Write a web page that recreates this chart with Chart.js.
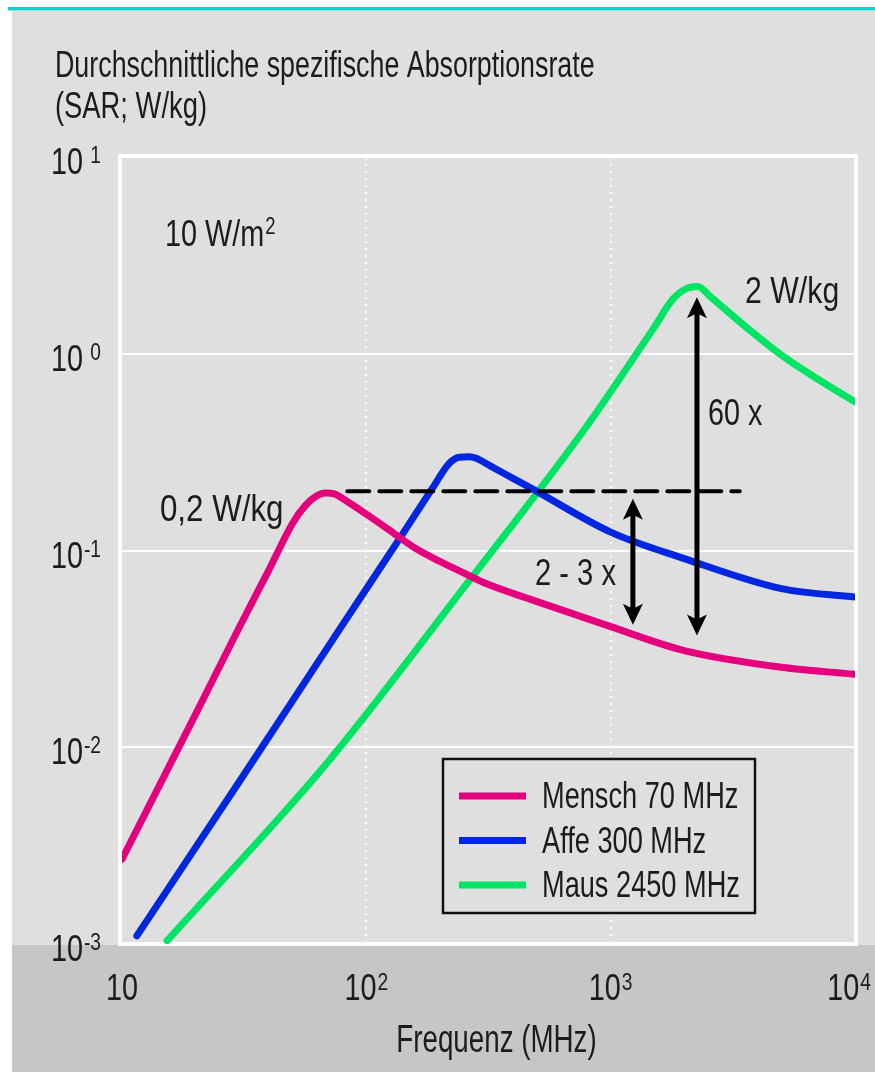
<!DOCTYPE html>
<html>
<head>
<meta charset="utf-8">
<script src="https://cdn.jsdelivr.net/npm/chart.js@4.4.1/dist/chart.umd.min.js"></script>
<style>
  html, body { margin: 0; padding: 0; background: #fff; }
  #wrap { width: 875px; height: 1072px; }
</style>
</head>
<body>
<div id="wrap"><canvas id="sarChart" width="875" height="1072"></canvas></div>
<script>
// values: frequency in MHz, SAR in W/kg
const menschFreq = [10, 20, 30, 40, 50, 56, 62, 68, 74, 82, 100, 130, 160, 200, 250, 300, 500, 1000, 2000, 5000, 10000];
const menschSAR  = [0.0027, 0.0147, 0.040, 0.080, 0.138, 0.168, 0.188, 0.196, 0.194, 0.18, 0.153, 0.122, 0.102, 0.088, 0.077, 0.069, 0.055, 0.041, 0.031, 0.0255, 0.0235];

const affeFreq = [11.5, 30, 80, 140, 190, 217, 240, 265, 280, 320, 400, 480, 1000, 2000, 5000, 10000];
const affeSAR  = [0.0011, 0.0066, 0.042, 0.12, 0.215, 0.275, 0.298, 0.3, 0.295, 0.27, 0.232, 0.205, 0.124, 0.091, 0.064, 0.058];

const mausFreq = [15.3, 70.6, 277, 477, 821, 1500, 1800, 2050, 2270, 2560, 3650, 5100, 7080, 10000];
const mausSAR  = [0.00104, 0.0086, 0.076, 0.182, 0.45, 1.35, 1.9, 2.15, 2.2, 1.95, 1.34, 0.966, 0.74, 0.57];

const seriesLabels = ['Mensch 70 MHz', 'Affe 300 MHz', 'Maus 2450 MHz'];
const seriesColors = ['#e4007c', '#0026e0', '#00e464'];

const refFreq = [83.6, 3375];     // dashed 0,2 W/kg line
const refSAR  = [0.2, 0.2];

const xTicks   = [10, 100, 1000, 10000];
const xTickExp = ['', '2', '3', '4'];
const yTicks   = [10, 1, 0.1, 0.01, 0.001];
const yTickExp = ['1', '0', '-1', '-2', '-3'];

// double arrows: frequency, top and bottom SAR
const arrowFreq = [1233, 2255];
const arrowTop  = [0.183, 1.94];
const arrowBot  = [0.042, 0.037];

// annotation texts anchored at (freq, SAR), left / baseline
const noteText = ['10 W/m', '0,2 W/kg', '2 - 3 x', '60 x', '2 W/kg'];
const noteSup  = ['2', '', '', '', ''];
const noteFreq = [15, 14.3, 490, 2500, 3550];
const noteSAR  = [3.53, 0.141, 0.0668, 0.434, 1.81];
const noteSq   = [0.8, 0.87, 0.81, 0.8, 0.84];

const FONT = "'Liberation Sans', Arial, sans-serif";
const INK = '#1c1c1c';

function txt(ctx, s, x, y, size, align, sq) {
  sq = sq || 0.8;
  ctx.save();
  ctx.font = size + 'px ' + FONT;
  ctx.textBaseline = 'alphabetic';
  ctx.textAlign = 'left';
  const w = ctx.measureText(s).width * sq;
  const x0 = align === 'right' ? x - w : align === 'center' ? x - w / 2 : x;
  ctx.translate(x0, y);
  ctx.scale(sq, 1);
  ctx.fillStyle = INK;
  ctx.fillText(s, 0, 0);
  ctx.restore();
  return w;
}
function txtWidth(ctx, s, size, sq) {
  ctx.save();
  ctx.font = size + 'px ' + FONT;
  const w = ctx.measureText(s).width * (sq || 0.8);
  ctx.restore();
  return w;
}

function drawArrowHead(ctx, x, y, dir) {
  // dir = -1 pointing up, 1 pointing down
  ctx.beginPath();
  ctx.moveTo(x, y);
  ctx.lineTo(x - 10, y - dir * 21);
  ctx.lineTo(x, y - dir * 16);
  ctx.lineTo(x + 10, y - dir * 21);
  ctx.closePath();
  ctx.fill();
}

const decor = {
  id: 'decor',
  beforeDraw(chart) {
    const { ctx, chartArea: a, width, height } = chart;
    ctx.save();
    ctx.fillStyle = '#ffffff';
    ctx.fillRect(0, 0, width, height);
    ctx.fillStyle = '#dfdfdf';
    ctx.fillRect(12, 10, width - 12, height - 10);
    ctx.fillStyle = '#00d2cf';
    ctx.fillRect(8, 7, width - 8, 3);
    ctx.fillStyle = '#9fe2df';
    ctx.fillRect(8, 10, width - 8, 1);
    ctx.fillStyle = '#c6c6c6';
    ctx.fillRect(12, a.bottom + 1, width - 12, height - a.bottom - 1);
    ctx.restore();
  },
  beforeDatasetsDraw(chart) {
    const { ctx, chartArea: a } = chart;
    ctx.save();
    ctx.strokeStyle = '#ffffff';
    ctx.lineWidth = 4;
    ctx.strokeRect(a.left - 2, a.top - 1, a.right - a.left + 3, a.bottom - a.top + 1);
    ctx.restore();
  },
  afterDatasetsDraw(chart) {
    const { ctx, chartArea: a } = chart;
    const xs = chart.scales.x, ys = chart.scales.y;
    ctx.save();

    // arrows
    ctx.fillStyle = '#000';
    ctx.strokeStyle = '#000';
    ctx.lineWidth = 5;
    arrowFreq.forEach((f, i) => {
      const px = xs.getPixelForValue(f);
      const yt = ys.getPixelForValue(arrowTop[i]);
      const yb = ys.getPixelForValue(arrowBot[i]);
      ctx.beginPath();
      ctx.moveTo(px, yt + 12);
      ctx.lineTo(px, yb - 12);
      ctx.stroke();
      drawArrowHead(ctx, px, yt, -1);
      drawArrowHead(ctx, px, yb, 1);
    });

    // annotations
    noteText.forEach((s, i) => {
      const px = xs.getPixelForValue(noteFreq[i]);
      const py = ys.getPixelForValue(noteSAR[i]);
      const w = txt(ctx, s, px, py, 36, 'left', noteSq[i]);
      if (noteSup[i]) txt(ctx, noteSup[i], px + w + 1, py - 12, 23, 'left');
    });

    // legend box
    const lx = 443, ly = 759, lw = 312, lh = 154;
    ctx.fillStyle = '#dfdfdf';
    ctx.fillRect(lx, ly, lw, lh);
    ctx.strokeStyle = '#111';
    ctx.lineWidth = 2.5;
    ctx.strokeRect(lx, ly, lw, lh);
    chart.data.datasets.slice(0, 3).forEach((ds, i) => {
      const yy = ly + 37 + i * 44.5;
      ctx.strokeStyle = ds.borderColor;
      ctx.lineWidth = 7;
      ctx.beginPath();
      ctx.moveTo(lx + 16, yy);
      ctx.lineTo(lx + 83, yy);
      ctx.stroke();
      txt(ctx, ds.label, lx + 99, yy + 12, 36, 'left', 0.755);
    });

    // y tick labels
    yTicks.forEach((v, i) => {
      const py = ys.getPixelForValue(v);
      txt(ctx, '10', 83, py + 17, 36, 'right');
      txt(ctx, yTickExp[i], 101, py + 6, 24, 'right');
    });

    // x tick labels
    xTicks.forEach((v, i) => {
      const px = xs.getPixelForValue(v);
      const wb = txtWidth(ctx, '10', 36);
      const we = xTickExp[i] ? txtWidth(ctx, xTickExp[i], 24) + 1 : 0;
      let left = px - (wb + we) / 2;
      if (left + wb + we > 871) left = 871 - wb - we;
      txt(ctx, '10', left, 1000, 36, 'left');
      if (xTickExp[i]) txt(ctx, xTickExp[i], left + wb + 1, 990, 24, 'left');
    });

    // axis titles
    txt(ctx, 'Frequenz (MHz)', (a.left + a.right) / 2 + 8, 1052, 38, 'center', 0.73);
    txt(ctx, 'Durchschnittliche spezifische Absorptionsrate', 55, 77, 36, 'left', 0.745);
    txt(ctx, '(SAR; W/kg)', 55, 118, 36, 'left', 0.76);
    ctx.restore();
  }
};

const toPoints = (fx, fy) => fx.map((f, i) => ({ x: f, y: fy[i] }));

new Chart(document.getElementById('sarChart'), {
  type: 'line',
  data: {
    datasets: [
      { label: seriesLabels[0], data: toPoints(menschFreq, menschSAR), borderColor: seriesColors[0] },
      { label: seriesLabels[1], data: toPoints(affeFreq, affeSAR), borderColor: seriesColors[1] },
      { label: seriesLabels[2], data: toPoints(mausFreq, mausSAR), borderColor: seriesColors[2] },
      { label: 'ref', data: toPoints(refFreq, refSAR), borderColor: '#000', borderWidth: 4,
        borderDash: [22, 10], order: -1 }
    ]
  },
  options: {
    responsive: false,
    animation: false,
    devicePixelRatio: 1,
    layout: { padding: { left: 122, top: 157, right: 20, bottom: 128 } },
    elements: {
      line: { borderWidth: 7, cubicInterpolationMode: 'monotone', borderCapStyle: 'round', borderJoinStyle: 'round' },
      point: { radius: 0 }
    },
    plugins: { legend: { display: false }, tooltip: { enabled: false } },
    scales: {
      x: {
        type: 'logarithmic', min: 10, max: 10000,
        afterBuildTicks: s => { s.ticks = xTicks.map(v => ({ value: v })); },
        ticks: { display: false },
        grid: {
          drawTicks: false, lineWidth: 2,
          color: c => (c.tick && (c.tick.value === 100 || c.tick.value === 1000)) ? '#ffffff' : 'rgba(0,0,0,0)'
        },
        border: { display: false, dash: [2, 5] }
      },
      y: {
        type: 'logarithmic', min: 0.001, max: 10,
        afterBuildTicks: s => { s.ticks = yTicks.map(v => ({ value: v })); },
        ticks: { display: false },
        grid: {
          drawTicks: false, lineWidth: 2,
          color: c => (c.tick && c.tick.value < 5 && c.tick.value > 0.005) ? '#ffffff' : 'rgba(0,0,0,0)'
        },
        border: { display: false }
      }
    }
  },
  plugins: [decor]
});
</script>
</body>
</html>
